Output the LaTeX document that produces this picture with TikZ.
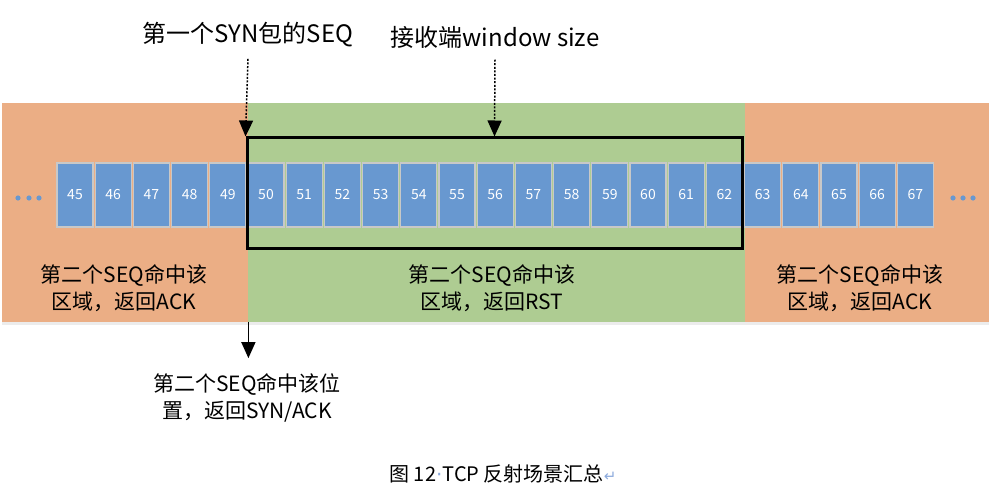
\documentclass[tikz,border=0pt]{standalone}
\usepackage{fontspec}
\setmainfont{Noto Sans CJK SC}
\newfontfamily\symfont{DejaVu Sans}
\usetikzlibrary{shapes, arrows.meta, positioning, shadows}

\definecolor{regorange}{RGB}{235,174,133}
\definecolor{reggreen}{RGB}{174,204,146}
\definecolor{cellblue}{RGB}{104,152,208}
\definecolor{cellgrey}{RGB}{200,200,200}
\definecolor{markblue}{RGB}{140,170,220}

\tikzset{
	region/.style={inner sep=0pt, anchor=north west, drop shadow={opacity=0.15, shadow xshift=0pt, shadow yshift=-3pt}},
	cellbox/.style={draw=cellgrey, line width=1.2pt, fill=cellblue, minimum width=36pt, minimum height=64pt, inner sep=0pt, text=white, font=\fontsize{14}{14}\selectfont},
	toplabel/.style={font=\fontsize{24}{24}\selectfont},
	arealabel/.style={align=center, font=\fontsize{21}{27}\selectfont},
	ptr/.style={line width=1.5pt, -{Triangle[length=16pt,width=14pt]}}
}

\begin{document}
\begin{tikzpicture}[x=1pt, y=-1pt]
	\useasboundingbox (0,0) rectangle (994,492);

	% 三个区域
	\node[region, fill=regorange, minimum width=246pt, minimum height=219pt] (regL) at (2,103) {};
	\node[region, fill=reggreen, minimum width=497pt, minimum height=219pt] (regM) at (248,103) {};
	\node[region, fill=regorange, minimum width=244pt, minimum height=219pt] (regR) at (745,103) {};

	% 序号格子
	\foreach \i in {0,...,22} {
		\pgfmathtruncatemacro{\seq}{45+\i}
		\node[cellbox] (c\seq) at ({75+38.2*\i},195) {\seq};
	}
	\foreach \x in {18,29,39,953,963,973} {
		\fill[cellblue] (\x,198) circle (2.6pt);
	}

	% 接收窗口
	\node[draw, line width=3pt, minimum width=495pt, minimum height=110pt, inner sep=0pt] (win) at (494.5,193) {};

	\node[toplabel] (synlbl) at (248,35) {第一个SYN包的SEQ};
	\node[toplabel] (winlbl) at (495,37) {接收端window size};
	\draw[ptr, dash pattern=on 2pt off 1.6pt] ([yshift=-8pt]synlbl.south) -- (win.north west);
	\draw[ptr, dash pattern=on 2pt off 1.6pt] ([yshift=-8pt]winlbl.south) -- (win.north);

	\node[arealabel] (txtL) at (124,288) {第二个SEQ命中该\\区域，返回ACK};
	\node[arealabel] (txtM) at (492,288) {第二个SEQ命中该\\区域，返回RST};
	\node[arealabel] (txtR) at (860,288) {第二个SEQ命中该\\区域，返回ACK};

	\node[arealabel] (synack) at (247,398) {第二个SEQ命中该位\\置，返回SYN/ACK};
	\draw[ptr] (regL.south east) -- ([yshift=12pt]synack.north -| regL.south east);

	% 图题
	\node[font=\fontsize{20}{20}\selectfont] (caption) at (503,474) {图 12{\color{markblue}\symfont ·}TCP 反射场景汇总{\color{markblue}\symfont\fontsize{15}{15}\selectfont ↵}};
\end{tikzpicture}
\end{document}
